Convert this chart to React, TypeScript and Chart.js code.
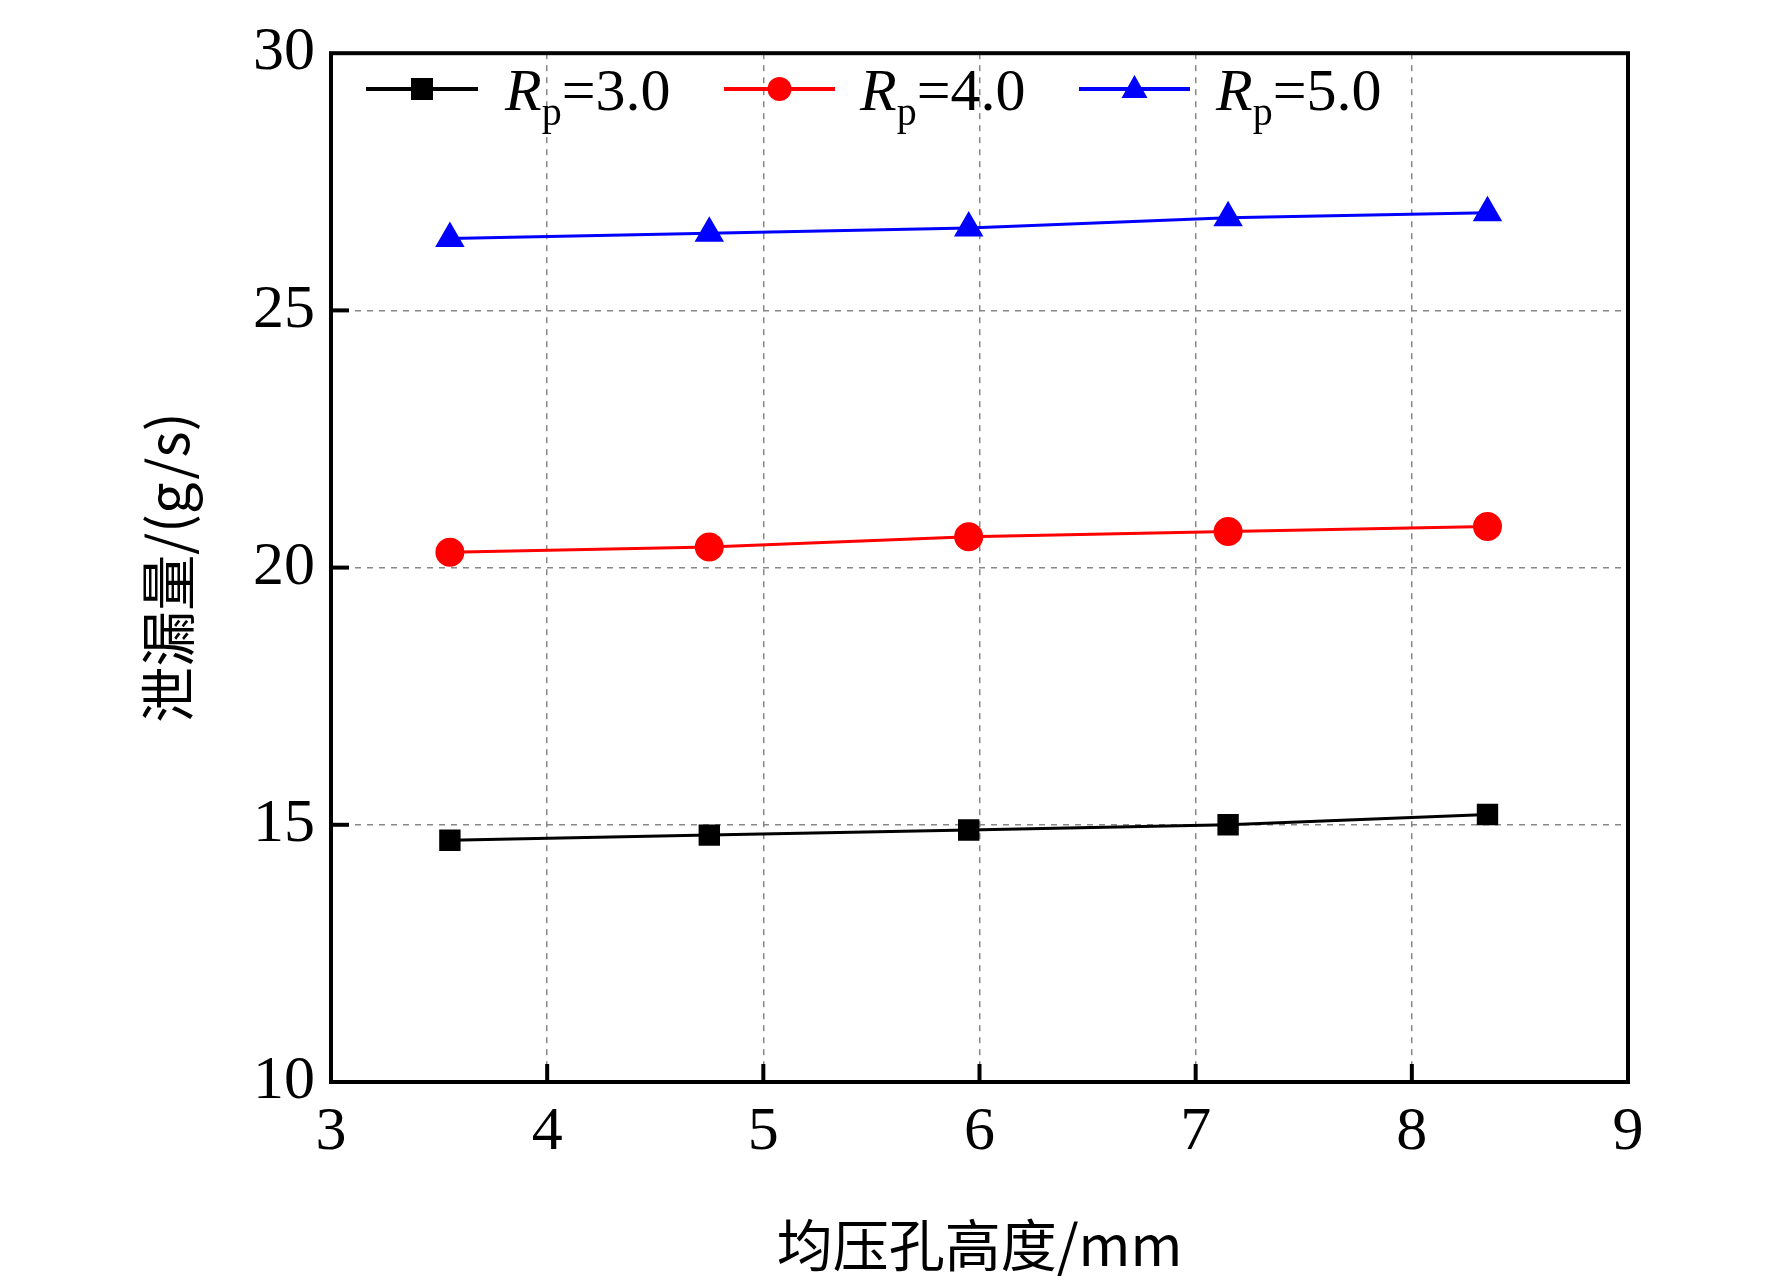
import React, { useEffect, useRef } from "react";
import { Chart, registerables } from "chart.js";
Chart.register(...registerables);

const xValues = [3.55, 4.75, 5.95, 7.15, 8.35];
const rp3 = [14.7, 14.8, 14.9, 15.0, 15.2];
const rp4 = [20.3, 20.4, 20.6, 20.7, 20.8];
const rp5 = [26.4, 26.5, 26.6, 26.8, 26.9];
const seriesLabels = ["3.0", "4.0", "5.0"];
const colors = ["#000000", "#ff0000", "#0000ff"];
const shapes = ["rect", "circle", "triangle"];
const xTitle = "均压孔高度/mm";
const yTitle = "泄漏量/(g/s)";

const SERIF = "'Liberation Serif', 'Times New Roman', serif";
const CJK = "'Noto Sans CJK SC', serif";

const framePlugin = {
  id: "frame",
  afterDraw(chart: any) {
    const { ctx, chartArea: a, scales } = chart;
    ctx.save();
    ctx.strokeStyle = "#000";
    ctx.lineWidth = 4;
    ctx.strokeRect(a.left, a.top, a.right - a.left, a.bottom - a.top);
    for (let v = 4; v <= 8; v++) {
      const x = scales.x.getPixelForValue(v);
      ctx.beginPath(); ctx.moveTo(x, a.bottom); ctx.lineTo(x, a.bottom - 18); ctx.stroke();
    }
    for (let v = 15; v <= 25; v += 5) {
      const y = scales.y.getPixelForValue(v);
      ctx.beginPath(); ctx.moveTo(a.left, y); ctx.lineTo(a.left + 18, y); ctx.stroke();
    }
    // axis titles
    ctx.fillStyle = "#000";
    ctx.font = `56px ${CJK}`;
    ctx.textAlign = "center";
    ctx.textBaseline = "middle";
    ctx.fillText(xTitle, (a.left + a.right) / 2, 1245);
    ctx.save();
    ctx.translate(168, (a.top + a.bottom) / 2);
    ctx.rotate(-Math.PI / 2);
    ctx.fillText(yTitle, 0, 0);
    ctx.restore();
    // legend
    const ly = 89;
    const items = [[366, 478, 505], [724, 835, 860], [1079, 1190, 1216]];
    items.forEach((it, i) => {
      ctx.strokeStyle = colors[i];
      ctx.fillStyle = colors[i];
      ctx.lineWidth = 4;
      ctx.beginPath(); ctx.moveTo(it[0], ly); ctx.lineTo(it[1], ly); ctx.stroke();
      const cx = (it[0] + it[1]) / 2;
      ctx.beginPath();
      if (shapes[i] === "rect") ctx.rect(cx - 11, ly - 11, 22, 22);
      else if (shapes[i] === "circle") ctx.arc(cx, ly, 12, 0, Math.PI * 2);
      else { ctx.moveTo(cx, ly - 14); ctx.lineTo(cx + 13, ly + 9); ctx.lineTo(cx - 13, ly + 9); ctx.closePath(); }
      ctx.fill();
      ctx.fillStyle = "#000";
      ctx.textBaseline = "alphabetic";
      ctx.textAlign = "left";
      ctx.font = `italic 60px ${SERIF}`;
      let x = it[2];
      ctx.fillText("R", x, ly + 21);
      x += ctx.measureText("R").width;
      ctx.font = `40px ${SERIF}`;
      ctx.fillText("p", x, ly + 36);
      x += ctx.measureText("p").width;
      ctx.font = `60px ${SERIF}`;
      ctx.fillText("=" + seriesLabels[i], x, ly + 21);
    });
    ctx.restore();
  },
};

export default function App() {
  const ref = useRef<HTMLCanvasElement>(null);
  useEffect(() => {
    document.body.style.margin = "0";
    const mk = (data: number[], i: number) => ({
      label: seriesLabels[i],
      data: data.map((y, k) => ({ x: xValues[k], y })),
      borderColor: colors[i],
      backgroundColor: colors[i],
      borderWidth: 3,
      pointStyle: shapes[i] as any,
      pointRadius: shapes[i] === "triangle" ? 14 : 13,
      showLine: true,
    });
    const chart = new Chart(ref.current!, {
      type: "scatter",
      data: { datasets: [mk(rp3, 0), mk(rp4, 1), mk(rp5, 2)] },
      options: {
        animation: false,
        responsive: false,
        layout: { padding: { top: 34, right: 144, left: 0, bottom: 0 } },
        plugins: { legend: { display: false }, tooltip: { enabled: false } },
        scales: {
          x: {
            type: "linear", min: 3, max: 9,
            ticks: { stepSize: 1, color: "#000", font: { family: SERIF, size: 62 }, padding: 14 },
            grid: { color: "#888", lineWidth: 1.5, drawTicks: false },
            border: { display: false, dash: [6, 6] },
            afterFit: (s: any) => { s.height = 199; },
          },
          y: {
            min: 10, max: 30,
            ticks: { stepSize: 5, color: "#000", font: { family: SERIF, size: 62 }, padding: 16 },
            grid: { color: "#888", lineWidth: 1.5, drawTicks: false },
            border: { display: false, dash: [6, 6] },
            afterFit: (s: any) => { s.width = 331; },
          },
        },
      },
      plugins: [framePlugin],
    });
    return () => chart.destroy();
  }, []);
  return <canvas ref={ref} width={1772} height={1281} style={{ display: "block" }} />;
}
